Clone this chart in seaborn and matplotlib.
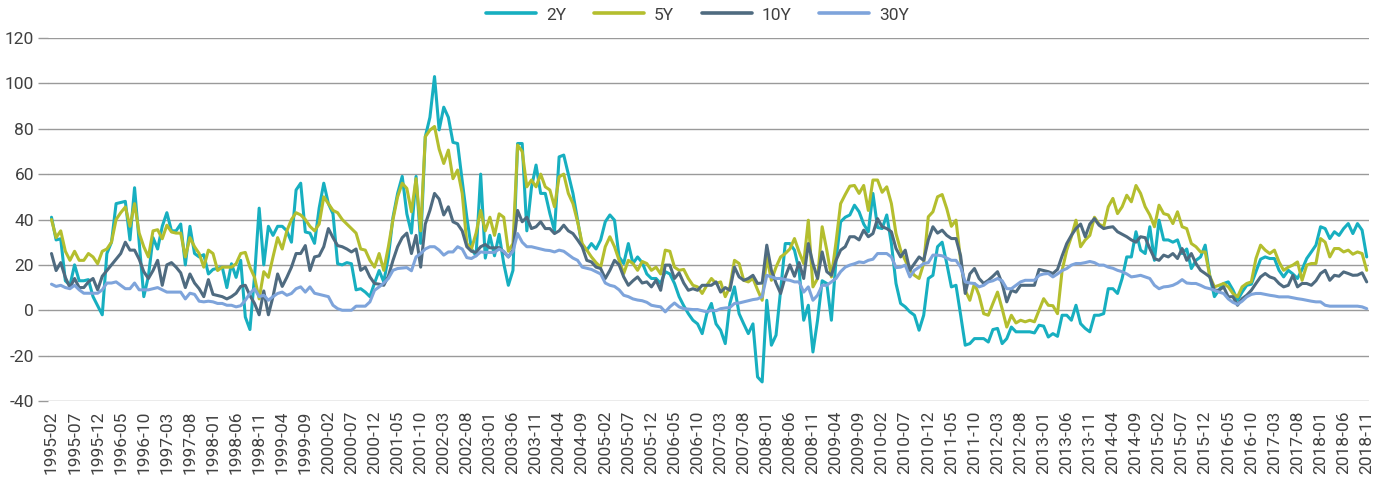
import numpy as np
import pandas as pd
import matplotlib
matplotlib.use("Agg")
import matplotlib.pyplot as plt
import seaborn as sns

# ---- data -------------------------------------------------------------
start_month = "1995-02"
n_months = 286
months = list(pd.period_range(start_month, periods=n_months, freq="M").strftime("%Y-%m"))

series_names = ["2Y", "5Y", "10Y", "30Y"]
series_colors = ["#17AFC0", "#B4BE2E", "#4F6B80", "#7EA4DB"]

y2 = [41, 31, 31.5, 13, 11, 20, 13, 13, 13.5, 6,
      2, -2, 25, 30, 47, 47.5, 48, 31, 54, 30,
      6, 15, 32, 27, 37, 43, 35, 35, 38, 20,
      37, 25, 23.5, 24.5, 16, 18, 18.5, 19, 10, 20.5,
      14.5, 22, -3, -8.5, 15, 45, 20, 37, 33, 37,
      37, 35, 30, 53, 56, 34.5, 34, 29.5, 45, 56,
      47, 42.5, 20.5, 20, 21, 20.5, 9, 9.5, 8, 6,
      12, 17.5, 12.5, 23.5, 41, 51.5, 59, 42.5, 34, 59,
      29.5, 76.5, 85, 103, 79.5, 89.5, 85, 74, 73.5, 57,
      41, 27, 24, 60, 23, 33, 24, 33.5, 20.6, 11,
      17.6, 73.5, 73.5, 35, 54, 64, 51.5, 51.5, 42.6, 35,
      67.6, 68.4, 60, 51.5, 39.7, 28, 26.5, 29.4, 27, 31,
      39, 42, 39.7, 23.5, 20.6, 29.4, 20.6, 23.5, 21, 16,
      14, 14, 11.8, 17, 16, 11.8, 6, 2, -1.5, -4.4,
      -6, -10.3, -1.5, 3, -6, -8.8, -14.7, 3, 10.3, -1.5,
      -6, -10.3, -6, -29.4, -31.6, 4.4, -15.4, -11, 8.8, 29.4,
      29.4, 26.5, 17.6, -4.4, 2.2, -18.4, -4.4, 13, 11.8, -4.4,
      22, 39, 41, 42, 46.3, 43.4, 38, 34.6, 51.5, 36.5,
      36, 42, 29.4, 11.8, 3, 1.5, -0.7, -2.2, -8.8, -2.2,
      14, 15.4, 28, 30, 20.6, 10.3, 11, -2, -15.4, -14.7,
      -12.5, -12.5, -12.5, -14, -8.5, -8, -14.7, -12.5, -7.4, -9.5,
      -9.5, -9.5, -9.5, -10, -6.6, -7, -11.8, -10.3, -11.5, -2.2,
      -2.2, -4.4, 2.2, -5.9, -8, -9.5, -2.2, -2.2, -1.5, 9.5,
      9.5, 7.4, 14, 23.5, 23.5, 34.6, 26.5, 25, 36.8, 22,
      39.7, 31, 31, 30, 31, 25, 27, 18.4, 22, 23.5,
      28.7, 15, 6, 9, 11.8, 12.5, 9, 4.4, 8, 11,
      11.5, 17, 22.5, 23.5, 22.8, 22.8, 17.6, 14.7, 17.6, 16,
      14, 18, 22.8, 25.7, 28.7, 36.8, 36, 31.6, 34.6, 33,
      36, 38.2, 33.8, 38.2, 35.3, 23.5]

y5 = [40, 32, 35, 26, 22, 26, 22, 22, 25, 23.5,
      20.5, 26, 27, 30, 40, 43, 45.5, 37, 47, 34,
      28, 23.5, 35, 35.5, 31.5, 37.5, 34.5, 34, 34, 23.5,
      32, 28, 25, 19, 26.5, 25, 17.5, 19, 19, 19,
      20.5, 25, 25.5, 19, 14.5, 5, 17, 14.5, 23.5, 32,
      27, 35, 40, 43, 42, 40, 37, 35, 38, 50,
      47, 44, 43, 40, 38, 36, 34, 27, 26.5, 22,
      19, 25, 17.6, 28, 40, 50, 56, 53.7, 43.4, 58,
      35, 76.5, 79.4, 81, 71, 64.7, 70.6, 58, 61.8, 51.5,
      29.4, 27, 34, 44, 35, 41, 33, 42.5, 41, 26,
      29.4, 72.8, 70, 54.4, 57.4, 54.4, 60, 54.4, 53, 45.6,
      58.8, 60, 51.5, 47, 39, 29.4, 26.5, 23.5, 21, 19,
      28, 32.4, 28, 22, 16.2, 22, 20.6, 17.6, 21.5, 20.6,
      17.6, 19, 16, 26.5, 26, 19, 17.6, 18, 14, 11,
      10.3, 7.4, 11, 14, 11.8, 12.5, 6, 10.3, 22, 20.6,
      13.2, 12.5, 14, 9, 4.4, 23.5, 13.2, 19, 23.5, 25,
      27, 31.6, 25.7, 20.6, 39.7, 10.3, 14, 36.8, 26.5, 14.7,
      30, 47, 51, 54.7, 55, 51.5, 55, 44, 57.4, 57.4,
      52, 54.4, 47, 33.8, 26.5, 22, 17.6, 15.4, 14, 20.6,
      41.2, 43.4, 50, 51, 44.8, 37, 39.7, 22, 8.8, 4.4,
      11.8, 6.6, -1.5, -2.2, 3, 8, 0.7, -7.4, -2.2, -5.6,
      -4.4, -5.1, -4.4, -5.1, 0, 5.1, 2.2, 2, -1.5, 17.6,
      26.5, 32.4, 39.7, 28, 31, 33, 41, 38, 36.8, 45.6,
      49.3, 42.6, 45.6, 50.7, 47.8, 55, 51.5, 45.6, 42, 36.8,
      46.3, 42.6, 42, 38.2, 43.4, 36.8, 36, 29.4, 28, 25.7,
      25.7, 15, 10.3, 11, 11.8, 10.3, 7.4, 5.9, 10.3, 11.8,
      12.5, 22.8, 28.7, 26.5, 25, 26.5, 21.3, 17.6, 19, 19.9,
      21.3, 13.2, 19.9, 20.6, 20.6, 31.6, 30, 23.5, 27.2, 27.2,
      25.7, 26.5, 24.7, 25.7, 25, 17.6]

y10 = [25, 17.5, 21, 14.5, 10, 14, 10, 10, 12.5, 14,
       9, 15, 17.5, 20, 22.5, 25, 30, 26.5, 26.5, 22.5,
       17, 14, 17.5, 22, 11, 20, 21, 19, 16.5, 10,
       16, 12, 9.5, 6, 13.5, 7, 6.5, 6, 5, 6,
       7.5, 10.5, 11, 6.5, 3, -2, 8.5, -2, 6, 16,
       10.5, 14.5, 19, 25, 25, 28.5, 17.5, 23.5, 24, 28,
       36, 32, 28.5, 28, 27, 25.7, 27, 17.6, 19, 14.7,
       11.8, 11.5, 11, 15, 22, 28, 32, 34, 25, 33,
       19, 38, 44, 51.5, 49, 42, 45.6, 39, 38, 35,
       28, 26, 25.5, 28, 29, 27.5, 27.5, 27.6, 25.7, 23.5,
       26.5, 44, 39, 41, 36, 36.8, 39, 36, 36, 33.8,
       35, 37.5, 35, 33.8, 31, 28, 22, 21.3, 19, 18.4,
       14, 17.6, 22, 20, 14.7, 11, 13, 14.7, 12, 12.5,
       10.3, 13.2, 8.8, 19.9, 19.9, 14, 16.5, 12, 8.8, 9.5,
       8.8, 11, 11, 11, 12.5, 8, 10, 8.8, 19, 14.7,
       13.2, 14, 15.4, 11.8, 12, 28.7, 17.6, 12, 7.4, 14.7,
       20, 15, 21, 14, 29.4, 20.6, 14, 25.7, 17, 15.4,
       22, 26.5, 28, 32.4, 32.4, 31, 35.3, 32.4, 33.8, 40.4,
       36.8, 36, 34.6, 27.2, 23.5, 26.5, 17.6, 20.6, 23.5, 22,
       31, 36.8, 34, 35.3, 33, 31.6, 31.6, 24, 7.4, 16,
       18.4, 14, 11.8, 13.2, 15, 17, 11.8, 3.7, 8.8, 8,
       11, 11, 11, 11, 18, 17.5, 17, 16.2, 18, 24,
       29.4, 33, 36, 38, 32.4, 38, 40.4, 37.5, 36, 36.5,
       36.8, 34.6, 33.5, 32.4, 31, 30, 32.4, 32, 27.2, 22.8,
       22, 24.3, 23.5, 25, 22.8, 27.2, 22, 25, 20.6, 17.6,
       16.2, 14.7, 8.8, 8.8, 10.3, 5.9, 6, 2.2, 5.1, 6.6,
       8.8, 11.8, 14.7, 16.2, 14.7, 14, 11.8, 10.3, 11, 15.4,
       10.3, 11.8, 11.8, 11, 13, 16.2, 17.6, 13.2, 15.4, 15,
       16.9, 16.2, 15.4, 15.5, 16.5, 12.5]

y30 = [11.5, 10.5, 11, 10, 9.5, 11, 9, 7.5, 7.5, 7.5,
       7.5, 9, 12, 12, 12.5, 11, 9.5, 9.5, 12, 9,
       9, 9, 9.5, 10, 9, 8, 8, 8, 8, 5,
       7.5, 7, 4, 3.7, 4, 3.7, 3, 3, 2.2, 2.2,
       1.5, 2, 4.4, 7.4, 9.5, 6, 6.6, 4.4, 6, 7.4,
       8, 6.6, 7.4, 9.5, 10.3, 8, 10.3, 7.5, 7, 6.5,
       6, 2.2, 0.7, 0, 0, 0, 1.8, 1.8, 1.8, 3.7,
       8.8, 10.3, 12, 14, 17.6, 18.4, 18.6, 18.8, 17.4, 23.5,
       25, 27, 28, 28, 26.5, 24.3, 25.7, 25.7, 28, 27,
       23.2, 22.8, 24, 25.7, 25.5, 25.5, 25.5, 27, 26, 23.5,
       26, 33.8, 30, 28, 28, 27.5, 27, 26.5, 26.3, 25.7,
       26.5, 26, 24.5, 23, 22, 19, 18.5, 18, 17, 16,
       12, 11, 10.5, 9, 6.6, 6, 5, 4.5, 4.2, 3.5,
       2.2, 1.8, 1.5, -0.7, 1.5, 3.2, 1.5, 0.7, 0.5, 0.3,
       0.3, -0.2, -0.7, 0, -0.2, 0.7, 1, 1.2, 3, 3.2,
       3.7, 4.2, 4.7, 5, 6, 15.4, 14.7, 14, 14, 13.5,
       13.2, 12.5, 12.5, 8, 10.3, 4.4, 6.6, 11, 11, 12.5,
       14, 17, 19, 19.9, 20.5, 21.3, 21, 22, 22.5, 25,
       25, 25, 23.5, 18.8, 19, 19.9, 14.7, 17.6, 19, 20.6,
       21, 24.3, 24.3, 24, 23, 22, 22, 19, 12.5, 12,
       11.8, 10.3, 11, 12.5, 13, 14, 13, 9.5, 9.5, 11,
       12.5, 13.2, 13.2, 13.2, 15.4, 16, 16.2, 14.7, 16, 17.5,
       18.4, 19.9, 20.6, 20.6, 21, 21.5, 21, 19.9, 19.9, 19,
       18.5, 17.6, 17, 16, 14.7, 15, 15.4, 14.7, 14, 11,
       9.5, 10.3, 10.5, 11, 12, 13.5, 12, 11.8, 11.8, 11,
       10, 9.5, 8.8, 8, 7.4, 5, 3.5, 2.6, 4, 5.9,
       7, 7.4, 7.4, 7, 6.6, 6.3, 5.9, 5.9, 5.9, 5.5,
       5.1, 4.8, 4.4, 4, 3.7, 3.7, 2.2, 1.8, 1.8, 1.8,
       1.8, 1.8, 1.8, 1.8, 1.5, 0.7]

y_ticks = [-40, -20, 0, 20, 40, 60, 80, 100, 120]
label_step = 5

# ---- figure -----------------------------------------------------------
sns.set_theme(style="white")
plt.rcParams["font.family"] = ["Roboto", "DejaVu Sans"]
text_color = "#404040"
grid_color = "#9a9a9a"

wide = pd.DataFrame({"x": np.arange(n_months), "2Y": y2, "5Y": y5, "10Y": y10, "30Y": y30})
long = wide.melt(id_vars="x", var_name="series", value_name="value")

fig = plt.figure(figsize=(13.8, 4.83), dpi=100)
ax = fig.add_axes([0.03464, 0.16977, 0.9574, 0.75155])

sns.lineplot(data=long, x="x", y="value", hue="series", hue_order=series_names,
             palette=dict(zip(series_names, series_colors)), linewidth=2.2,
             ax=ax, legend=False, sort=False, estimator=None)

ax.set_xlim(-0.8, 285.5)
ax.set_ylim(-40, 120)
ax.set_yticks(y_ticks)
ax.set_yticklabels([str(t) for t in y_ticks])
pos = list(range(0, n_months, label_step))
ax.set_xticks(pos)
ax.set_xticklabels([months[p] for p in pos], rotation=90)
ax.set_xlabel("")
ax.set_ylabel("")
for s in ax.spines.values():
    s.set_visible(False)
for t in y_ticks:
    ax.axhline(t, color=grid_color, lw=1.0, zorder=0)
ax.tick_params(axis="y", length=7, width=1.0, color=grid_color, pad=3,
               labelsize=12.5, labelcolor=text_color, left=True)
ax.tick_params(axis="x", length=0, pad=7, labelsize=12.5, labelcolor=text_color)

handles = [plt.Line2D([], [], color=c, lw=2.6) for c in series_colors]
fig.legend(handles, series_names, loc="center", bbox_to_anchor=(0.5054, 0.969),
           ncol=4, frameon=False, fontsize=12.5, handlelength=2.9,
           handletextpad=0.55, columnspacing=1.6, labelcolor=text_color)

fig.savefig("out.png", dpi=100)
